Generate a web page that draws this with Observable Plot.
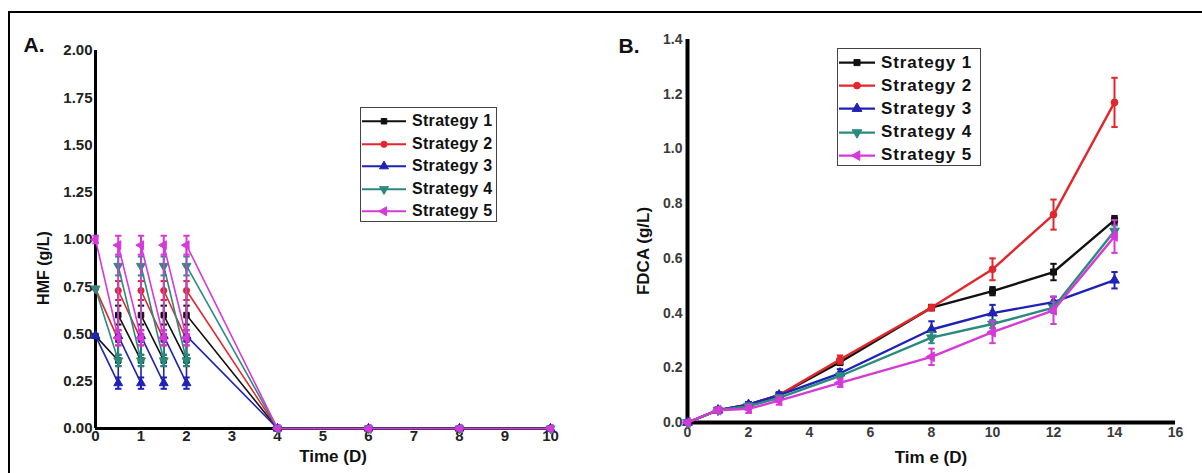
<!DOCTYPE html>
<html><head><meta charset="utf-8">
<script src="https://cdn.jsdelivr.net/npm/d3@7"></script>
<script src="https://cdn.jsdelivr.net/npm/@observablehq/plot@0.6"></script>
<style>
html,body{margin:0;padding:0;background:#fff;}
#root{position:relative;width:1202px;height:473px;overflow:hidden;font-family:"Liberation Sans",Arial,sans-serif;background:#fff;}
.frame{position:absolute;left:8px;top:11px;width:1200px;height:470px;border-left:2px solid #000;border-top:2px solid #000;}
.abs{position:absolute;white-space:nowrap;font-weight:bold;color:#111;line-height:1;}
.plot{position:absolute;top:0;}
.legend{position:absolute;border:1.5px solid #444;background:#fff;box-sizing:border-box;}
.row{display:flex;align-items:center;font-weight:bold;color:#111;white-space:nowrap;}
</style>
</head><body>
<div id="root"><div class="frame"></div></div>
<script>
// ---------- data ----------
const strategies = ["Strategy 1", "Strategy 2", "Strategy 3", "Strategy 4", "Strategy 5"];
const colors = ["#111111", "#e3262b", "#1f22b4", "#2a8a7e", "#d53ad8"];

// Panel A: HMF (g/L) vs Time (D)
const hmfTime = [0, 0.5, 0.5, 1, 1, 1.5, 1.5, 2, 2, 4, 6, 8, 10];
const hmfS1 = [0.49, 0.36, 0.60, 0.36, 0.60, 0.36, 0.60, 0.36, 0.60, 0, 0, 0, 0];
const hmfS2 = [0.74, 0.47, 0.73, 0.47, 0.73, 0.47, 0.73, 0.47, 0.73, 0, 0, 0, 0];
const hmfS3 = [0.49, 0.24, 0.49, 0.24, 0.49, 0.24, 0.49, 0.24, 0.49, 0, 0, 0, 0];
const hmfS4 = [0.74, 0.36, 0.86, 0.36, 0.86, 0.36, 0.86, 0.36, 0.86, 0, 0, 0, 0];
const hmfS5 = [1.00, 0.48, 0.97, 0.48, 0.97, 0.48, 0.97, 0.48, 0.97, 0, 0, 0, 0];
const hmfErrS1 = [0, 0.03, 0.05, 0.03, 0.05, 0.03, 0.05, 0.03, 0.05, 0, 0, 0, 0];
const hmfErrS2 = [0, 0.03, 0.05, 0.03, 0.05, 0.03, 0.05, 0.03, 0.05, 0, 0, 0, 0];
const hmfErrS3 = [0, 0.03, 0.03, 0.03, 0.03, 0.03, 0.03, 0.03, 0.03, 0, 0, 0, 0];
const hmfErrS4 = [0, 0.03, 0.05, 0.03, 0.05, 0.03, 0.05, 0.03, 0.05, 0, 0, 0, 0];
const hmfErrS5 = [0.02, 0.04, 0.05, 0.04, 0.05, 0.04, 0.05, 0.04, 0.05, 0, 0.01, 0.01, 0.01];
const hmfTicksY = [0, 0.25, 0.5, 0.75, 1, 1.25, 1.5, 1.75, 2];
const hmfTicksX = [0, 1, 2, 3, 4, 5, 6, 7, 8, 9, 10];

// Panel B: FDCA (g/L) vs Time (D)
const fdcaTime = [0, 1, 2, 3, 5, 8, 10, 12, 14];
const fdcaS1 = [0, 0.045, 0.065, 0.10, 0.22, 0.42, 0.48, 0.55, 0.74];
const fdcaS2 = [0, 0.045, 0.065, 0.10, 0.23, 0.42, 0.56, 0.76, 1.17];
const fdcaS3 = [0, 0.045, 0.065, 0.10, 0.18, 0.34, 0.40, 0.44, 0.52];
const fdcaS4 = [0, 0.045, 0.060, 0.09, 0.17, 0.31, 0.36, 0.42, 0.70];
const fdcaS5 = [0, 0.045, 0.050, 0.08, 0.145, 0.24, 0.33, 0.41, 0.68];
const fdcaErrS1 = [0, 0.01, 0.01, 0.01, 0.01, 0.01, 0.015, 0.03, 0.015];
const fdcaErrS2 = [0, 0.01, 0.01, 0.01, 0.015, 0.01, 0.04, 0.055, 0.09];
const fdcaErrS3 = [0, 0.01, 0.01, 0.01, 0.015, 0.03, 0.03, 0.02, 0.03];
const fdcaErrS4 = [0, 0.01, 0.01, 0.01, 0.01, 0.02, 0.015, 0.02, 0.02];
const fdcaErrS5 = [0, 0.01, 0.015, 0.015, 0.015, 0.03, 0.04, 0.05, 0.06];
const fdcaTicksY = [0, 0.2, 0.4, 0.6, 0.8, 1.0, 1.2, 1.4];
const fdcaTicksX = [0, 2, 4, 6, 8, 10, 12, 14, 16];

// ---------- symbols ----------
const triDown = {draw(ctx, size) { const R = Math.sqrt(size * 0.62 / 1.299); ctx.moveTo(0, R); ctx.lineTo(R * 0.866, -R / 2); ctx.lineTo(-R * 0.866, -R / 2); ctx.closePath(); }};
const triUp = {draw(ctx, size) { const R = Math.sqrt(size * 0.62 / 1.299); ctx.moveTo(0, -R); ctx.lineTo(R * 0.866, R / 2); ctx.lineTo(-R * 0.866, R / 2); ctx.closePath(); }};
const triLeft = {draw(ctx, size) { const R = Math.sqrt(size * 0.62 / 1.299); ctx.moveTo(-R, 0); ctx.lineTo(R / 2, -R * 0.866); ctx.lineTo(R / 2, R * 0.866); ctx.closePath(); }};
const sq = {draw(ctx, size) { const w = Math.sqrt(size * 0.55); ctx.rect(-w / 2, -w / 2, w, w); }};
const circ = {draw(ctx, size) { const r = Math.sqrt(size * 0.55 / Math.PI); ctx.moveTo(r, 0); ctx.arc(0, 0, r, 0, 2 * Math.PI); }};
const cap = {draw(ctx, size) { const w = Math.sqrt(size); ctx.moveTo(-w / 2, 0); ctx.lineTo(w / 2, 0); }};
const symbols = [sq, circ, triUp, triDown, triLeft];

function table(times, series, errs) {
  return series.map((vals, i) => times.map((t, j) => ({t, v: vals[j], e: errs[i][j], s: i})));
}
const dataA = table(hmfTime, [hmfS1, hmfS2, hmfS3, hmfS4, hmfS5], [hmfErrS1, hmfErrS2, hmfErrS3, hmfErrS4, hmfErrS5]);
const dataB = table(fdcaTime, [fdcaS1, fdcaS2, fdcaS3, fdcaS4, fdcaS5], [fdcaErrS1, fdcaErrS2, fdcaErrS3, fdcaErrS4, fdcaErrS5]);

function seriesMarks(data, lw, r) {
  const marks = [];
  data.forEach((d, i) => {
    const c = colors[i];
    const withErr = d.filter(p => p.e > 0);
    marks.push(Plot.line(d, {x: "t", y: "v", stroke: c, strokeWidth: lw}));
    marks.push(Plot.ruleX(withErr, {x: "t", y1: p => p.v - p.e, y2: p => p.v + p.e, stroke: c, strokeWidth: 2}));
    marks.push(Plot.dot(withErr, {x: "t", y: p => p.v - p.e, symbol: cap, r: 3.6, fill: "none", stroke: c, strokeWidth: 2}));
    marks.push(Plot.dot(withErr, {x: "t", y: p => p.v + p.e, symbol: cap, r: 3.6, fill: "none", stroke: c, strokeWidth: 2}));
    marks.push(Plot.dot(d, {x: "t", y: "v", symbol: symbols[i], r: r, fill: c, stroke: c, strokeWidth: 1}));
  });
  return marks;
}

const root = document.getElementById("root");

// ---------- Panel A ----------
const plotA = Plot.plot({
  width: 560, height: 473,
  marginLeft: 95, marginRight: 10, marginTop: 50, marginBottom: 45,
  x: {domain: [0, 10], axis: null},
  y: {domain: [0, 2], axis: null},
  style: {fontFamily: "'Liberation Sans', Arial, sans-serif", fontSize: "15px", fontWeight: "bold", color: "#222", background: "transparent", overflow: "visible"},
  marks: [
    Plot.axisY(hmfTicksY, {tickSize: 0, tickPadding: 3, tickFormat: d3.format(".2f"), label: null}),
    Plot.axisX(hmfTicksX, {tickSize: 0, tickPadding: 2, tickFormat: d3.format("d"), label: null}),
    Plot.ruleX([0], {y1: 0, y2: 2, stroke: "#000", strokeWidth: 3}),
    Plot.ruleY([0], {x1: 0, x2: 10, stroke: "#000", strokeWidth: 3}),
    ...seriesMarks(dataA, 1.6, 4.2)
  ]
});
plotA.classList.add("plot");
plotA.style.left = "0px";
root.appendChild(plotA);

// ---------- Panel B ----------
const plotB = Plot.plot({
  width: 602, height: 473,
  marginLeft: 87, marginRight: 27, marginTop: 39, marginBottom: 51,
  x: {domain: [0, 16], axis: null},
  y: {domain: [0, 1.4], axis: null},
  style: {fontFamily: "'Liberation Sans', Arial, sans-serif", fontSize: "14px", fontWeight: "bold", color: "#3a3a3a", background: "transparent", overflow: "visible"},
  marks: [
    Plot.axisY(fdcaTicksY, {tickSize: 0, tickPadding: 5, tickFormat: d3.format(".1f"), label: null}),
    Plot.axisX(fdcaTicksX, {tickSize: 0, tickPadding: 5, tickFormat: d3.format("d"), label: null}),
    Plot.ruleX([0], {y1: 0, y2: 1.4, stroke: "#000", strokeWidth: 4}),
    Plot.ruleY([0], {x1: 0, x2: 16, stroke: "#000", strokeWidth: 4}),
    ...seriesMarks(dataB, 2.4, 4.6)
  ]
});
plotB.classList.add("plot");
plotB.style.left = "600px";
root.appendChild(plotB);

// ---------- labels ----------
function label(text, x, y, size, rotate) {
  const el = document.createElement("div");
  el.className = "abs";
  el.textContent = text;
  el.style.fontSize = size + "px";
  el.style.left = x + "px";
  el.style.top = y + "px";
  el.style.transform = "translate(-50%,-50%)" + (rotate ? " rotate(-90deg)" : "");
  root.appendChild(el);
}
label("A.", 34, 44, 21, false);
label("B.", 629, 45, 21, false);
label("HMF (g/L)", 44, 268, 16, true);
label("Time (D)", 333, 456, 17, false);
label("FDCA (g/L)", 643, 251, 17, true);
label("Tim e (D)", 931, 457, 17, false);

// ---------- legends ----------
function legend(left, top, w, h, rowH, swW, fontSize, spacing, lw, r) {
  const box = document.createElement("div");
  box.className = "legend";
  Object.assign(box.style, {left: left + "px", top: top + "px", width: w + "px", height: h + "px", paddingTop: "2px"});
  strategies.forEach((name, i) => {
    const row = document.createElement("div");
    row.className = "row";
    row.style.height = rowH + "px";
    row.style.fontSize = fontSize + "px";
    row.style.letterSpacing = spacing + "px";
    const svg = d3.create("svg").attr("width", swW).attr("height", rowH).style("flex", "none").style("margin-right", "5px");
    svg.append("line").attr("x1", 1).attr("x2", swW - 1).attr("y1", rowH / 2).attr("y2", rowH / 2).attr("stroke", colors[i]).attr("stroke-width", lw);
    svg.append("path").attr("d", d3.symbol(symbols[i], Math.PI * r * r)()).attr("transform", `translate(${swW / 2},${rowH / 2})`).attr("fill", colors[i]).attr("stroke", colors[i]);
    row.appendChild(svg.node());
    const t = document.createElement("span");
    t.textContent = name;
    row.appendChild(t);
    box.appendChild(row);
  });
  root.appendChild(box);
}
legend(360, 107, 137, 115, 22.5, 46, 16, 0.3, 2, 4.2);
legend(837, 48, 144, 118, 23.2, 38, 17, 0.9, 2.4, 4.6);
</script>
</body></html>
